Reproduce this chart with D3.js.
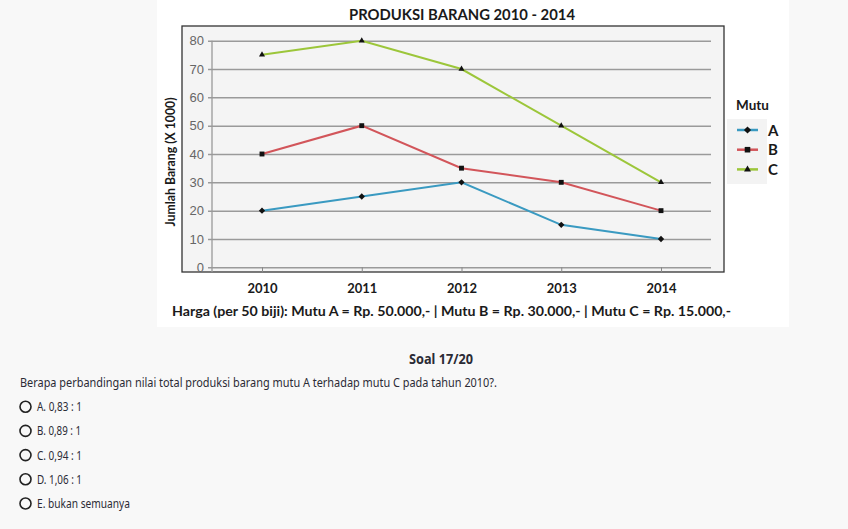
<!DOCTYPE html>
<html><head><meta charset="utf-8">
<script src="https://cdn.jsdelivr.net/npm/d3@7"></script>
<style>
html,body{margin:0;padding:0;background:#f8f8f8;}
svg{display:block;}
</style></head>
<body>
<script>
const years = ["2010","2011","2012","2013","2014"];
const mutuA = [20,25,30,15,10];
const mutuB = [40,50,35,30,20];
const mutuC = [75,80,70,50,30];
const yTicks = [0,10,20,30,40,50,60,70,80];
const seriesNames = ["A","B","C"];
const seriesColors = ["#3a9ac1","#d2555a","#9cc63a"];
const options = ["A. 0,83 : 1","B. 0,89 : 1","C. 0,94 : 1","D. 1,06 : 1","E. bukan semuanya"];

const W=848,H=529;
const svg=d3.select("body").append("svg").attr("width",W).attr("height",H);
svg.append("rect").attr("width",W).attr("height",H).attr("fill","#f8f8f8");
svg.append("rect").attr("x",157).attr("y",0).attr("width",632).attr("height",327).attr("fill","#ffffff");
svg.append("rect").attr("x",182).attr("y",26).attr("width",542).attr("height",246)
  .attr("fill","#f4f4f4").attr("stroke","#333").attr("stroke-width",1.3);

const x=d3.scalePoint().domain(years).range([262,661]);
const y=d3.scaleLinear().domain([0,80]).range([267.3,40.7]);

const yAxis=d3.axisLeft(y).tickValues(yTicks).tickSize(-(711-212)).tickPadding(8);
const gy=svg.append("g").attr("transform","translate(212,0)").call(yAxis);
gy.select(".domain").remove();
gy.selectAll(".tick line").attr("stroke","#9a9a9a").attr("stroke-width",1.5).attr("x1",-4);
gy.selectAll(".tick text").attr("font-family","Liberation Sans, Arial, sans-serif").attr("font-size",13)
  .attr("fill","#666").attr("x",-8);
svg.append("line").attr("x1",212).attr("x2",212).attr("y1",40.7).attr("y2",272).attr("stroke","#9a9a9a").attr("stroke-width",1.3);

const xAxis=d3.axisBottom(x).tickSize(5).tickPadding(8);
const gx=svg.append("g").attr("transform","translate(0,267.3)").call(xAxis);
gx.select(".domain").remove();
gx.selectAll(".tick line").attr("stroke","#888").attr("stroke-width",1);
gx.selectAll(".tick text").attr("font-family","Lato, 'Open Sans', sans-serif").attr("font-weight","bold")
  .attr("font-size",13).attr("fill","#1a1a1a").attr("dy","0.95em");

function marker(sel,k,scale){
  if(k===0){
    sel.attr("d",d3.symbol().type(d3.symbolSquare).size(20*scale));
    return "rotate(45)";
  } else if(k===1){
    sel.attr("d",d3.symbol().type(d3.symbolSquare).size(24*scale));
  } else {
    sel.attr("d",d3.symbol().type(d3.symbolTriangle).size(16*scale));
  }
  return "";
}

const data=[mutuA,mutuB,mutuC];
const line=d3.line().x((d,i)=>x(years[i])).y(d=>y(d));
data.forEach((vals,k)=>{
  svg.append("path").datum(vals).attr("d",line).attr("fill","none")
    .attr("stroke",seriesColors[k]).attr("stroke-width",2);
  svg.selectAll(null).data(vals).enter().append("path").attr("fill","#111")
    .each(function(d,i){
      const s=d3.select(this);
      const r=marker(s,k,1);
      s.attr("transform",`translate(${x(years[i])},${y(d)}) ${r}`);
    });
});

svg.append("text").attr("x",462).attr("y",19.5).attr("text-anchor","middle")
  .attr("font-family","Lato, 'Open Sans', sans-serif").attr("font-weight","bold").attr("font-size",15.5)
  .attr("fill","#1a1a1a").attr("textLength",226).attr("lengthAdjust","spacingAndGlyphs")
  .text("PRODUKSI BARANG 2010 - 2014");

svg.append("text").attr("transform","translate(175,162) rotate(-90)").attr("text-anchor","middle")
  .attr("font-family","Lato, 'Open Sans', sans-serif").attr("font-weight","bold").attr("font-size",13.5)
  .attr("fill","#1a1a1a").attr("textLength",129).attr("lengthAdjust","spacingAndGlyphs")
  .text("Jumlah Barang (X 1000)");

svg.append("text").attr("x",172).attr("y",315.5)
  .attr("font-family","Lato, 'Open Sans', sans-serif").attr("font-weight","bold").attr("font-size",14)
  .attr("fill","#1a1a1a").attr("textLength",559).attr("lengthAdjust","spacingAndGlyphs")
  .text("Harga (per 50 biji): Mutu A = Rp. 50.000,- | Mutu B = Rp. 30.000,- | Mutu C = Rp. 15.000,-");

svg.append("text").attr("x",736).attr("y",109.5)
  .attr("font-family","Lato, 'Open Sans', sans-serif").attr("font-weight","bold").attr("font-size",13.5)
  .attr("fill","#1a1a1a").text("Mutu");
svg.append("rect").attr("x",727).attr("y",119).attr("width",40).attr("height",65).attr("fill","#f3f3f3");
seriesNames.forEach((n,k)=>{
  const ly=130+k*19.7;
  svg.append("line").attr("x1",737).attr("x2",758).attr("y1",ly).attr("y2",ly)
    .attr("stroke",seriesColors[k]).attr("stroke-width",2.5);
  const p=svg.append("path").attr("fill","#111");
  const r=marker(p,k,1.3);
  p.attr("transform",`translate(747.5,${ly}) ${r}`);
  svg.append("text").attr("x",768).attr("y",ly+5.5)
    .attr("font-family","Lato, 'Open Sans', sans-serif").attr("font-weight","bold").attr("font-size",15)
    .attr("fill","#1a1a1a").text(n);
});

const qf="'Noto Sans', Roboto, sans-serif";
svg.append("text").attr("x",441).attr("y",364).attr("text-anchor","middle")
  .attr("font-family",qf).attr("font-weight","bold").attr("font-size",13.5).attr("fill","#2b2b35")
  .attr("textLength",64).attr("lengthAdjust","spacingAndGlyphs").text("Soal 17/20");
svg.append("text").attr("x",20).attr("y",387)
  .attr("font-family",qf).attr("font-size",12.5).attr("fill","#2b2b35")
  .attr("textLength",477).attr("lengthAdjust","spacingAndGlyphs")
  .text("Berapa perbandingan nilai total produksi barang mutu A terhadap mutu C pada tahun 2010?.");
const optW=[45,44,45,45,93];
options.forEach((o,i)=>{
  const cy=406.7+i*24.2;
  svg.append("circle").attr("cx",25.5).attr("cy",cy).attr("r",5.5).attr("fill","none")
    .attr("stroke","#222").attr("stroke-width",1.6);
  svg.append("text").attr("x",37).attr("y",cy+4.5)
    .attr("font-family",qf).attr("font-size",12.5).attr("fill","#2b2b35")
    .attr("textLength",optW[i]).attr("lengthAdjust","spacingAndGlyphs").text(o);
});
</script>
</body></html>
